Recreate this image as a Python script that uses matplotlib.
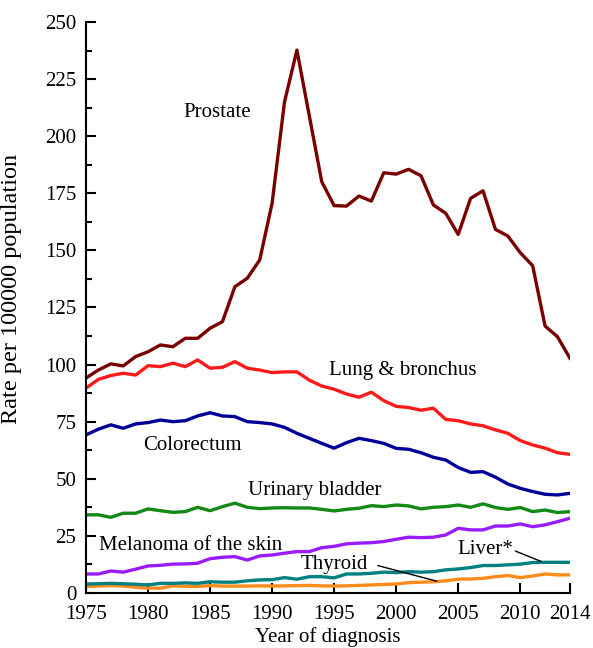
import matplotlib.pyplot as plt
from matplotlib.ticker import MultipleLocator

years = list(range(1975, 2015))

prostate = [94.1, 97.6, 100.3, 99.4, 103.5, 105.6, 108.6, 107.8, 111.5, 111.5,
            115.9, 118.8, 134.1, 137.8, 145.8, 170.6, 215.0, 237.7, 208.9, 180.1,
            169.6, 169.4, 173.8, 171.6, 184.0, 183.4, 185.5, 182.7, 169.9, 166.2,
            157.0, 172.8, 176.1, 159.2, 156.3, 149.0, 143.3, 116.9, 112.2, 102.8]
lung = [89.7, 93.5, 95.2, 96.2, 95.4, 99.5, 99.1, 100.6, 99.1, 102.0,
        98.4, 98.8, 101.3, 98.4, 97.6, 96.5, 96.8, 96.8, 93.2, 90.6,
        89.2, 87.1, 85.7, 87.9, 84.2, 81.7, 81.2, 80.0, 80.9, 76.0,
        75.4, 74.0, 73.2, 71.4, 69.9, 66.7, 64.8, 63.4, 61.4, 60.7]
colorectum = [69.2, 71.7, 73.6, 72.1, 74.0, 74.6, 75.7, 75.0, 75.4, 77.5,
              78.9, 77.5, 77.2, 75.0, 74.6, 74.0, 72.5, 69.9, 67.7, 65.5,
              63.4, 65.8, 67.7, 66.7, 65.5, 63.3, 62.9, 61.4, 59.4, 58.2,
              54.9, 52.8, 53.1, 50.7, 47.7, 45.8, 44.4, 43.2, 42.9, 43.6]
bladder = [34.2, 34.2, 33.1, 34.9, 34.9, 36.8, 36.0, 35.3, 35.6, 37.5,
           36.0, 37.8, 39.3, 37.5, 36.9, 37.2, 37.3, 37.2, 37.2, 36.6,
           35.9, 36.6, 37.1, 38.2, 37.8, 38.5, 38.1, 36.8, 37.5, 37.8,
           38.5, 37.5, 39.0, 37.4, 36.6, 37.4, 35.6, 36.3, 35.2, 35.6]
melanoma = [8.3, 8.3, 9.6, 9.1, 10.4, 11.8, 12.1, 12.6, 12.7, 13.0,
            15.0, 15.6, 15.9, 14.4, 16.2, 16.6, 17.4, 18.1, 18.1, 19.8,
            20.4, 21.5, 21.8, 22.0, 22.5, 23.5, 24.4, 24.2, 24.4, 25.4,
            28.3, 27.6, 27.6, 29.3, 29.3, 30.2, 29.0, 29.8, 31.2, 32.7]
liver = [3.9, 4.0, 4.2, 4.0, 3.8, 3.5, 4.2, 4.2, 4.4, 4.2,
         4.9, 4.7, 4.7, 5.3, 5.7, 5.8, 6.7, 6.0, 7.1, 7.1,
         6.6, 8.3, 8.3, 8.6, 9.1, 8.9, 9.3, 9.1, 9.3, 10.1,
         10.5, 11.1, 12.0, 12.0, 12.3, 12.6, 13.3, 13.4, 13.4, 13.4]
thyroid = [2.8, 3.0, 3.2, 3.0, 2.5, 2.1, 2.1, 3.1, 2.9, 2.8,
           3.2, 3.0, 3.0, 3.0, 3.1, 3.0, 3.1, 3.2, 3.3, 3.1,
           3.0, 3.1, 3.3, 3.5, 3.7, 3.9, 4.5, 4.7, 4.9, 5.3,
           6.0, 6.1, 6.4, 7.1, 7.6, 6.7, 7.4, 8.3, 7.9, 7.9]

plt.rcParams['font.family'] = 'Liberation Serif'
plt.rcParams['font.size'] = 15

fig = plt.figure(figsize=(5.93, 6.48), dpi=100)
ax = fig.add_axes([0.145, 0.085, 0.816, 0.881])

lw = 2.4
ax.plot(years, thyroid, color='#ff8c1a', lw=lw)
ax.plot(years, liver, color='#008080', lw=lw)
ax.plot(years, melanoma, color='#9b1bff', lw=lw)
ax.plot(years, bladder, color='#138a13', lw=lw)
ax.plot(years, colorectum, color='#000099', lw=lw)
ax.plot(years, lung, color='#ff1a1a', lw=lw)
ax.plot(years, prostate, color='#7a0000', lw=lw)

# series labels
ax.text(1985.6, 210.5, 'Prostate', ha='center', va='center')
ax.text(2000.5, 97.5, 'Lung & bronchus', ha='center', va='center')
ax.text(1983.6, 64.5, 'Colorectum', ha='center', va='center')
ax.text(1993.4, 45.0, 'Urinary bladder', ha='center', va='center')
ax.text(1983.4, 20.8, 'Melanoma of the skin', ha='center', va='center')
ax.text(1995.0, 12.3, 'Thyroid', ha='center', va='center')
ax.text(2007.2, 19.2, 'Liver*', ha='center', va='center')
ax.annotate('', xy=(2011.9, 13.3), xytext=(2009.4, 18.8),
            arrowprops=dict(arrowstyle='-', color='black', lw=1))
ax.annotate('', xy=(2003.5, 4.8), xytext=(1998.3, 12.3),
            arrowprops=dict(arrowstyle='-', color='black', lw=1))

ax.set_xlim(1975, 2014)
ax.set_ylim(0, 250)
ax.set_xticks([1975, 1980, 1985, 1990, 1995, 2000, 2005, 2010, 2014])
ax.yaxis.set_major_locator(MultipleLocator(25))
ax.yaxis.set_minor_locator(MultipleLocator(12.5))
ax.tick_params(direction='in', length=7, width=1.5)
ax.tick_params(which='minor', direction='in', length=4, width=1.5)
ax.tick_params(axis='x', pad=9)
ax.tick_params(axis='y', pad=7)
for s in ['top', 'right']:
    ax.spines[s].set_visible(False)
for s in ['left', 'bottom']:
    ax.spines[s].set_linewidth(1.5)

ax.set_xlabel('Year of diagnosis', labelpad=2)
ax.set_ylabel('Rate per 100000 population', fontsize=17.5)
ax.yaxis.set_label_coords(-0.132, 0.532)

fig.savefig('out.png', dpi=100)
